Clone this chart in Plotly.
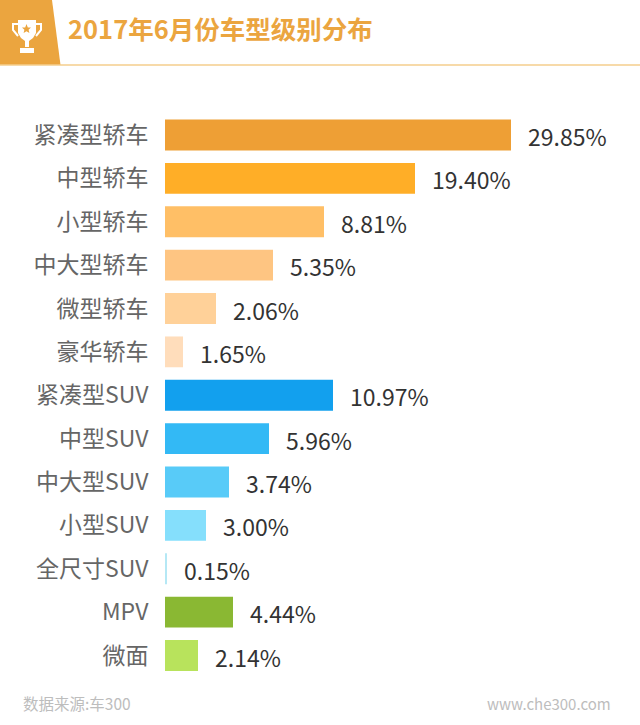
import plotly.graph_objects as go

categories = ["紧凑型轿车", "中型轿车", "小型轿车", "中大型轿车", "微型轿车", "豪华轿车",
              "紧凑型SUV", "中型SUV", "中大型SUV", "小型SUV", "全尺寸SUV", "MPV", "微面"]
# printed shares
share_labels = ["29.85%", "19.40%", "8.81%", "5.35%", "2.06%", "1.65%",
                "10.97%", "5.96%", "3.74%", "3.00%", "0.15%", "4.44%", "2.14%"]
# the bars in the picture are not to scale with the printed shares, so lengths are read separately
bar_lengths = [346, 250, 159, 108, 51, 18, 168, 104, 64, 41, 2, 68, 33]
bar_colors = ["#EE9F35", "#FFAE27", "#FFBF66", "#FEC582", "#FFD199", "#FFDDBB",
              "#12A0EE", "#33B9F5", "#58CBF8", "#85DFFC", "#B5E8F5", "#8AB833", "#B8E35C"]

W, H = 640, 725
HEAD = "#EBA53F"


def px(x):
    return x / W


def py(y):
    return 1 - y / H


def path(points):
    return "M" + " L".join(f"{px(x)},{py(y)}" for x, y in points) + " Z"


fig = go.Figure(go.Bar(x=bar_lengths, y=categories, orientation="h", width=0.71,
                       marker=dict(color=bar_colors, line_width=0)))

# value labels sit a bit below the bar centre
for c, v, t in zip(categories, bar_lengths, share_labels):
    fig.add_annotation(x=v, y=c, text=t, showarrow=False, xanchor="left", xshift=15, yshift=-1,
                       font=dict(size=23, color="#333333"))

# header band and rule
fig.add_shape(type="path", xref="paper", yref="paper", line_width=0, fillcolor=HEAD,
              path=path([(0, 0), (52, 0), (60.5, 65), (0, 65)]))
fig.add_shape(type="line", xref="paper", yref="paper", x0=0, x1=1, y0=py(65), y1=py(65),
              line=dict(color="#F5CE8C", width=1.5))

# trophy
white = dict(xref="paper", yref="paper", fillcolor="white", line_width=0)
fig.add_shape(type="path", path=path([(18, 20), (36, 20), (36, 33), (33, 38), (29, 41), (25, 41), (21, 38), (18, 33)]), **white)
fig.add_shape(type="path", path=path([(25, 41), (29, 41), (29, 47), (25, 47)]), **white)
fig.add_shape(type="path", path=path([(20, 48), (34, 48), (34, 53), (20, 53)]), **white)
fig.add_shape(type="path", xref="paper", yref="paper", fillcolor="rgba(0,0,0,0)", line=dict(color="white", width=2),
              path=f"M{px(18)},{py(24)} L{px(13)},{py(24)} L{px(13)},{py(30)} L{px(18)},{py(36)}")
fig.add_shape(type="path", xref="paper", yref="paper", fillcolor="rgba(0,0,0,0)", line=dict(color="white", width=2),
              path=f"M{px(36)},{py(24)} L{px(41)},{py(24)} L{px(41)},{py(30)} L{px(36)},{py(36)}")
fig.add_shape(type="path", xref="paper", yref="paper", fillcolor=HEAD, line_width=0,
              path=path([(26.5, 24), (27.8, 27.4), (31, 27.6), (28.6, 29.8), (29.4, 33), (26.5, 31.2),
                         (23.6, 33), (24.4, 29.8), (22, 27.6), (25.2, 27.4)]))

fig.add_annotation(xref="paper", yref="paper", x=px(66), y=py(28), text="<b>2017年6月份车型级别分布</b>",
                   showarrow=False, xanchor="left", yanchor="middle", font=dict(size=25.5, color=HEAD))
fig.add_annotation(xref="paper", yref="paper", x=px(21), y=py(703), text="数据来源:车300",
                   showarrow=False, xanchor="left", yanchor="middle", font=dict(size=15.5, color="#BDBDBD"))
fig.add_annotation(xref="paper", yref="paper", x=px(613), y=py(703), text="www.che300.com",
                   showarrow=False, xanchor="right", yanchor="middle", font=dict(size=15, color="#BDBDBD"))

fig.update_layout(
    width=W, height=H, margin=dict(l=0, r=0, t=0, b=0), paper_bgcolor="white", plot_bgcolor="white",
    showlegend=False, font=dict(family="Noto Sans CJK SC"),
    xaxis=dict(domain=[px(165), 1], range=[0, 475], visible=False),
    yaxis=dict(domain=[py(677.2), py(113.3)], autorange="reversed", showgrid=False, showline=False,
               ticks="outside", ticklen=11, tickcolor="rgba(0,0,0,0)", zeroline=False,
               tickfont=dict(size=23, color="#666666")),
)

# page default margin would push the figure off the 640x725 window
fig.write_html("out.html", config={"displayModeBar": False},
               post_script="document.body.style.margin='0';document.documentElement.style.overflow='hidden';")
